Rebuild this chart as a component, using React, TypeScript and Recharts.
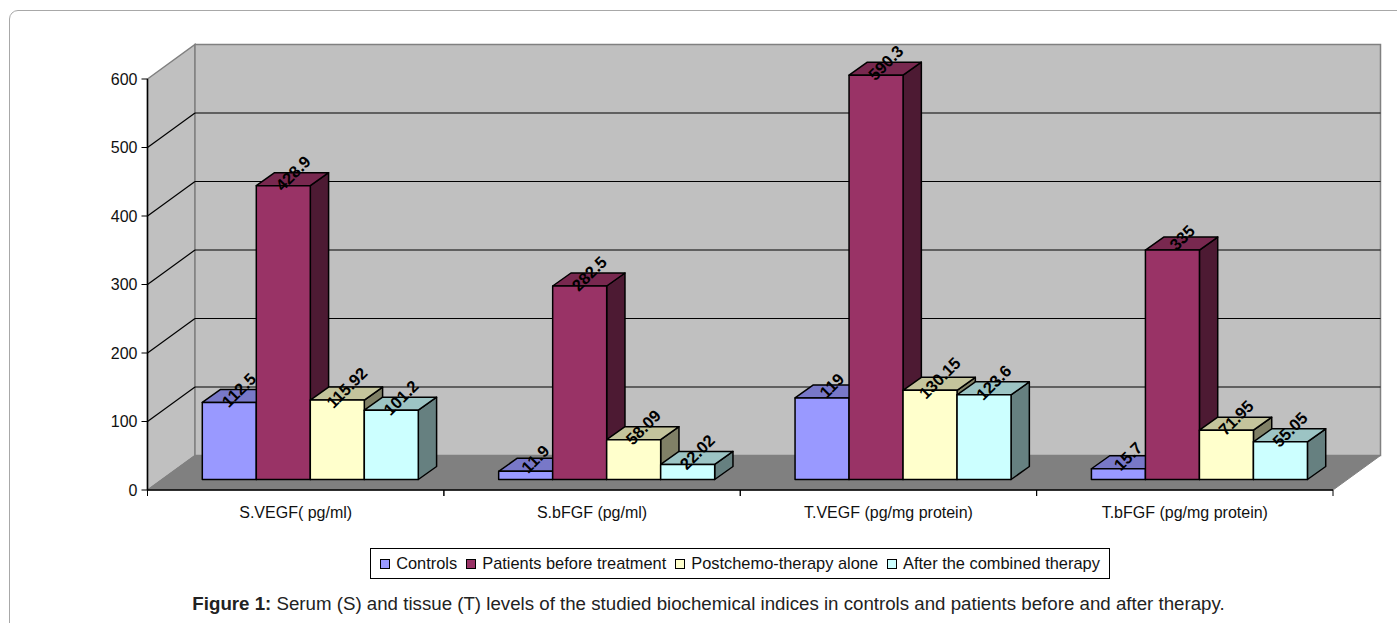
import React from "react";
import { Bar, BarChart, CartesianGrid, LabelList, Legend, XAxis, YAxis } from "recharts";

// Biochemical indices on the category axis
const categories = ["S.VEGF( pg/ml)", "S.bFGF (pg/ml)", "T.VEGF (pg/mg protein)", "T.bFGF (pg/mg protein)"];

// Measured levels per study group
const controls = [112.5, 11.9, 119, 15.7];
const beforeTreatment = [428.9, 282.5, 590.3, 335];
const postChemo = [115.92, 58.09, 130.15, 71.95];
const combinedTherapy = [101.2, 22.02, 123.6, 55.05];

const yTicks = [0, 100, 200, 300, 400, 500, 600];

const rows = categories.map((name, i) => ({
  name,
  controls: controls[i],
  beforeTreatment: beforeTreatment[i],
  postChemo: postChemo[i],
  combinedTherapy: combinedTherapy[i],
}));

// Pseudo-3D projection of the plot box
const W = 1397;
const H = 623;
const LEFT = 147.5;
const RIGHT = 1333;
const TOP = 79;
const BOTTOM = 490;
const LEGEND_H = 31;
const WALL_DX = 47.5;
const WALL_DY = -34.5;
const BAR_SHIFT_X = 14.4;
const BAR_SHIFT_Y = -10.5;
const BAR_DX = 18.3;
const BAR_DY = -13;
const BAND = (RIGHT - LEFT) / categories.length;
const FONT = '"Liberation Sans", Arial, sans-serif';

const pts = (p: number[][]) => p.map((q) => q.join(",")).join(" ");

const makeBar = (top: string, side: string) => (props: any) => {
  const { x, y, width, height, fill } = props;
  const l = x + BAR_SHIFT_X;
  const r = l + width;
  const t = y + BAR_SHIFT_Y;
  const b = t + height;
  const stroke = { stroke: "#000", strokeWidth: 1.5, strokeLinejoin: "round" as const };
  return (
    <g>
      <polygon points={pts([[r, t], [r + BAR_DX, t + BAR_DY], [r + BAR_DX, b + BAR_DY], [r, b]])} fill={side} {...stroke} />
      <polygon points={pts([[l, t], [l + BAR_DX, t + BAR_DY], [r + BAR_DX, t + BAR_DY], [r, t]])} fill={top} {...stroke} />
      <rect x={l} y={t} width={width} height={height} fill={fill} {...stroke} />
    </g>
  );
};

const valueLabel = (props: any) => {
  const { x, y, width, value } = props;
  const cx = x + BAR_SHIFT_X + width / 2 + 9.5;
  const cy = y + BAR_SHIFT_Y - 12.5;
  return (
    <text
      x={cx}
      y={cy}
      transform={`rotate(-45 ${cx} ${cy})`}
      textAnchor="middle"
      dominantBaseline="central"
      fontFamily={FONT}
      fontSize={16.5}
      fontWeight={700}
      fill="#000"
    >
      {value}
    </text>
  );
};

// Gridline on both the side wall and the back wall; the top and floor levels are wall edges
const gridLine = (props: any) => {
  const { y1, x1, x2 } = props;
  if (Math.abs(y1 - TOP) < 1 || Math.abs(y1 - BOTTOM) < 1) return <g key={y1} />;
  return (
    <g key={y1}>
      <line x1={x1} y1={y1} x2={x1 + WALL_DX} y2={y1 + WALL_DY} stroke="#000" strokeWidth={1.2} />
      <line x1={x1 + WALL_DX} y1={y1 + WALL_DY} x2={x2 + WALL_DX} y2={y1 + WALL_DY} stroke="#000" strokeWidth={1.2} />
    </g>
  );
};

const categoryTick = (props: any) => {
  const { x, payload } = props;
  return (
    <g>
      <line x1={x - BAND / 2} y1={BOTTOM} x2={x - BAND / 2} y2={BOTTOM + 6} stroke="#000" strokeWidth={1} />
      <line x1={x + BAND / 2} y1={BOTTOM} x2={x + BAND / 2} y2={BOTTOM + 6} stroke="#000" strokeWidth={1} />
      <text x={x} y={BOTTOM + 28} textAnchor="middle" fontFamily={FONT} fontSize={16} fill="#111">
        {payload.value}
      </text>
    </g>
  );
};

const legendBox = (props: any) => (
  <div
    style={{
      boxSizing: "border-box",
      width: 740,
      height: LEGEND_H,
      border: "1px solid #000",
      display: "flex",
      alignItems: "center",
      justifyContent: "center",
      gap: 9,
      background: "#fff",
      fontFamily: FONT,
      fontSize: 16.4,
      color: "#111",
      whiteSpace: "nowrap",
    }}
  >
    {(props.payload || []).map((item: any) => (
      <span key={item.value} style={{ display: "inline-flex", alignItems: "center", gap: 6 }}>
        <span style={{ width: 8, height: 8, background: item.color, border: "1px solid #000", display: "inline-block" }} />
        {item.value}
      </span>
    ))}
  </div>
);

// Side wall, back wall and floor of the plot box, painted beneath the chart layer
const PlotBox = () => (
  <svg width={W} height={H} style={{ position: "absolute", left: 0, top: 0 }}>
    <polygon
      points={pts([[LEFT, TOP], [LEFT + WALL_DX, TOP + WALL_DY], [LEFT + WALL_DX, BOTTOM + WALL_DY], [LEFT, BOTTOM]])}
      fill="#c0c0c0"
      stroke="#808080"
      strokeWidth={1.5}
    />
    <polygon
      points={pts([
        [LEFT + WALL_DX, TOP + WALL_DY],
        [RIGHT + WALL_DX, TOP + WALL_DY],
        [RIGHT + WALL_DX, BOTTOM + WALL_DY],
        [LEFT + WALL_DX, BOTTOM + WALL_DY],
      ])}
      fill="#c0c0c0"
      stroke="#808080"
      strokeWidth={1.5}
    />
    <polygon
      points={pts([[LEFT, BOTTOM], [LEFT + WALL_DX, BOTTOM + WALL_DY], [RIGHT + WALL_DX, BOTTOM + WALL_DY], [RIGHT, BOTTOM]])}
      fill="#808080"
      stroke="#808080"
      strokeWidth={1}
    />
  </svg>
);

export default function App() {
  return (
    <div style={{ position: "absolute", left: 0, top: 0, width: W, height: H, overflow: "hidden", background: "#fff" }}>
      <div
        style={{
          position: "absolute",
          left: 9,
          top: 10,
          width: 1500,
          height: 800,
          border: "1px solid #a8a8a8",
          borderRadius: 9,
        }}
      />
      <PlotBox />
      <BarChart
        width={W}
        height={H}
        data={rows}
        margin={{ top: TOP, right: W - RIGHT, bottom: 0, left: 0 }}
        barCategoryGap={40.4}
        barGap={0}
        style={{ position: "absolute", left: 0, top: 0 }}
      >
        <CartesianGrid vertical={false} horizontal={gridLine} />
        <XAxis
          dataKey="name"
          interval={0}
          tick={categoryTick}
          tickLine={false}
          axisLine={{ stroke: "#000", strokeWidth: 1.5 }}
          height={H - BOTTOM - LEGEND_H}
        />
        <YAxis
          domain={[0, 600]}
          ticks={yTicks}
          width={LEFT}
          tickSize={6}
          tickMargin={4}
          tick={{ fontFamily: FONT, fontSize: 16, fill: "#111" }}
          tickLine={{ stroke: "#000", strokeWidth: 1 }}
          axisLine={{ stroke: "#000", strokeWidth: 1.5 }}
        />
        <Legend
          content={legendBox}
          itemSorter={null}
          wrapperStyle={{ position: "absolute", left: 370, top: 548, bottom: "auto", width: 740, height: LEGEND_H }}
        />
        <Bar dataKey="controls" name="Controls" fill="#9999ff" shape={makeBar("#7878c8", "#4d4d80")} isAnimationActive={false}>
          <LabelList dataKey="controls" content={valueLabel} />
        </Bar>
        <Bar dataKey="beforeTreatment" name="Patients before treatment" fill="#993366" shape={makeBar("#78284f", "#4d1a33")} isAnimationActive={false}>
          <LabelList dataKey="beforeTreatment" content={valueLabel} />
        </Bar>
        <Bar dataKey="postChemo" name="Postchemo-therapy alone" fill="#ffffcc" shape={makeBar("#c4c49c", "#808066")} isAnimationActive={false}>
          <LabelList dataKey="postChemo" content={valueLabel} />
        </Bar>
        <Bar dataKey="combinedTherapy" name="After the combined therapy" fill="#ccffff" shape={makeBar("#9cc4c4", "#668080")} isAnimationActive={false}>
          <LabelList dataKey="combinedTherapy" content={valueLabel} />
        </Bar>
      </BarChart>
      <div
        style={{
          position: "absolute",
          left: 0,
          width: 1417,
          top: 594,
          textAlign: "center",
          fontFamily: FONT,
          fontSize: 17.5,
          color: "#222",
          whiteSpace: "nowrap",
          transform: "scaleX(1.068)",
          transformOrigin: "708.5px 0",
        }}
      >
        <b>Figure 1:</b> Serum (S) and tissue (T) levels of the studied biochemical indices in controls and patients before and after therapy.
      </div>
    </div>
  );
}
